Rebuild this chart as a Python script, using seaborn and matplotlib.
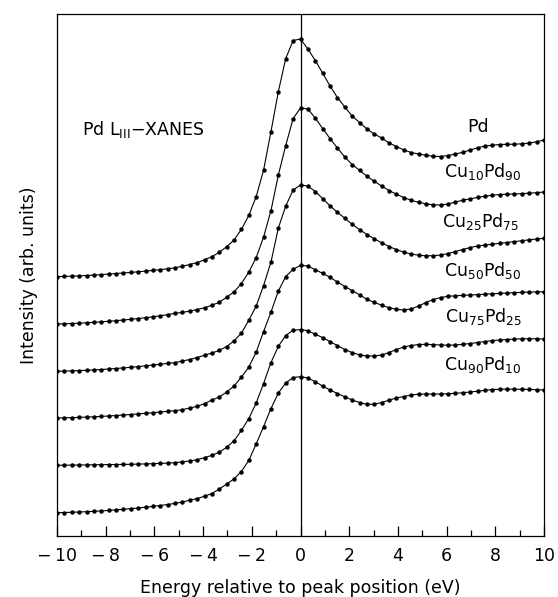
import numpy as np
import pandas as pd
import matplotlib
matplotlib.use("Agg")
import matplotlib.pyplot as plt
from matplotlib.ticker import MultipleLocator
import seaborn as sns

# Energy grid (eV relative to peak) - 67 measured points from -10 to 10
energy = np.linspace(-10, 10, 67)

samples = ["Pd", "Cu10Pd90", "Cu25Pd75", "Cu50Pd50", "Cu75Pd25", "Cu90Pd10"]
labels = [r"Pd", r"Cu$_{10}$Pd$_{90}$", r"Cu$_{25}$Pd$_{75}$",
          r"Cu$_{50}$Pd$_{50}$", r"Cu$_{75}$Pd$_{25}$", r"Cu$_{90}$Pd$_{10}$"]

# Intensities (arb. units, vertically stacked as displayed)
pd100 = [259.3, 259.6, 259.8, 260.1, 260.5, 260.9, 261.4, 261.9, 262.5, 263.0,
         263.6, 264.2, 264.9, 265.6, 266.4, 267.2, 268.2, 269.8, 271.5, 273.4,
         276.2, 279.4, 283.7, 289.4, 296.0, 306.7, 320.7, 339.5, 366.0, 404.5,
         444.5, 477.5, 495.5, 497.0, 487.0, 475.5, 463.0, 450.0, 438.5, 429.0,
         420.0, 413.5, 407.0, 402.0, 398.0, 393.0, 389.5, 386.0, 383.5, 382.0,
         380.7, 379.7, 379.5, 380.5, 382.0, 383.7, 386.0, 388.2, 390.0, 390.8,
         391.5, 391.7, 391.8, 392.2, 393.0, 394.2, 396.0]
cu10 = [212.0, 212.2, 212.5, 212.8, 213.2, 213.7, 214.2, 214.7, 215.3, 216.0,
        216.7, 217.5, 218.3, 219.2, 220.2, 221.4, 222.7, 223.6, 224.9, 226.5,
        228.2, 230.8, 233.8, 238.8, 244.2, 252.5, 264.0, 278.5, 299.0, 325.5,
        361.0, 390.5, 417.5, 428.0, 427.0, 418.0, 407.5, 397.5, 388.0, 379.0,
        371.5, 365.7, 359.8, 354.7, 350.0, 345.5, 341.7, 338.5, 335.7, 333.7,
        332.2, 331.2, 331.0, 332.0, 334.0, 335.8, 337.2, 338.6, 339.8, 340.8,
        341.5, 341.8, 342.0, 342.4, 342.8, 343.3, 344.0]
cu25 = [164.7, 164.9, 165.1, 165.4, 165.7, 166.1, 166.5, 167.0, 167.5, 168.1,
        168.7, 169.4, 170.2, 171.0, 171.8, 172.6, 173.4, 175.0, 176.5, 178.5,
        180.8, 183.0, 185.6, 189.5, 195.2, 203.0, 215.8, 230.0, 250.5, 274.0,
        308.0, 330.0, 346.0, 351.0, 350.0, 344.5, 337.5, 330.2, 323.7, 317.8,
        311.7, 306.4, 301.5, 297.2, 293.2, 289.5, 286.4, 283.8, 282.0, 280.8,
        280.2, 280.3, 281.0, 282.5, 284.5, 286.5, 288.5, 290.0, 291.0, 291.8,
        292.7, 293.5, 294.4, 295.3, 296.2, 297.0, 297.7]
cu50 = [118.0, 118.2, 118.4, 118.6, 118.9, 119.2, 119.6, 120.0, 120.5, 121.0,
        121.5, 122.1, 122.7, 123.3, 124.0, 124.7, 125.3, 126.4, 128.0, 129.7,
        132.4, 136.0, 139.0, 144.0, 150.0, 159.0, 169.0, 184.0, 204.5, 224.0,
        245.0, 259.5, 266.7, 270.7, 270.0, 266.2, 262.7, 258.7, 254.0, 249.5,
        245.4, 241.2, 236.7, 233.6, 230.8, 228.3, 226.7, 226.0, 227.0, 230.0,
        233.5, 236.5, 238.5, 239.7, 240.2, 240.6, 241.0, 241.4, 241.8, 242.2,
        242.6, 243.0, 243.3, 243.6, 243.9, 244.1, 244.3]
cu75 = [70.7, 70.8, 70.9, 71.0, 71.1, 71.2, 71.3, 71.4, 71.5, 71.6,
        71.7, 71.9, 72.1, 72.3, 72.6, 72.9, 73.3, 74.1, 75.1, 76.3,
        78.4, 80.7, 83.8, 88.8, 95.2, 105.7, 117.5, 133.2, 152.5, 173.5,
        189.7, 200.5, 205.7, 206.5, 205.2, 201.8, 198.4, 194.4, 190.4, 186.5,
        183.4, 181.2, 180.0, 180.0, 181.0, 183.5, 186.5, 189.0, 190.5, 191.5,
        191.7, 191.4, 191.0, 190.8, 191.0, 191.7, 192.5, 193.5, 194.5, 195.4,
        196.0, 196.5, 196.9, 197.2, 197.3, 197.2, 197.0]
cu90 = [23.3, 23.5, 23.7, 24.0, 24.3, 24.7, 25.1, 25.6, 26.1, 26.7,
        27.3, 28.0, 28.8, 29.6, 30.5, 31.5, 32.6, 34.0, 35.8, 37.5,
        39.8, 42.5, 47.0, 52.0, 57.2, 64.5, 75.7, 92.2, 109.5, 127.5,
        143.0, 153.0, 158.5, 159.3, 158.0, 154.3, 150.0, 146.0, 142.5, 139.2,
        136.0, 133.5, 131.7, 131.7, 133.5, 135.8, 138.0, 139.5, 141.0, 141.8,
        142.0, 142.0, 142.0, 142.2, 142.7, 143.3, 144.0, 144.8, 145.7, 146.4,
        146.8, 146.9, 146.8, 146.7, 146.6, 146.3, 146.0]

series = [pd100, cu10, cu25, cu50, cu75, cu90]

# Label anchor points (eV, intensity)
label_x = [7.3, 7.5, 7.4, 7.5, 7.5, 7.5]
label_y = [404.3, 359.0, 309.3, 260.0, 213.7, 166.0]

df = pd.concat([pd.DataFrame({"energy": energy, "intensity": s, "sample": n})
                for s, n in zip(series, samples)], ignore_index=True)

sns.set_style("white")
plt.rcParams["font.family"] = ["DejaVu Sans"]
plt.rcParams["mathtext.default"] = "regular"
plt.rcParams["text.color"] = "black"
plt.rcParams["axes.labelcolor"] = "black"
plt.rcParams["xtick.color"] = "black"
plt.rcParams["ytick.color"] = "black"

fig = plt.figure(figsize=(5.58, 5.97), dpi=100)
ax = fig.add_axes([57 / 558, 1 - 536 / 597, 487 / 558, 522 / 597])

sns.lineplot(data=df, x="energy", y="intensity", hue="sample",
             palette=["black"] * 6, marker="o", markersize=3.2,
             markeredgewidth=0, linewidth=0.8, legend=False, ax=ax,
             estimator=None, sort=False)

ax.axvline(0, color="black", linewidth=0.9)

ax.set_xlim(-10, 10)
ax.set_ylim(0, 522)
ax.set_yticks([])
ax.xaxis.set_major_locator(MultipleLocator(2))
ax.xaxis.set_minor_locator(MultipleLocator(1))
ax.tick_params(axis="x", which="major", direction="in", length=7, width=0.9,
               labelsize=12.5, pad=8, bottom=True, top=False, colors="black")
ax.tick_params(axis="x", which="minor", direction="in", length=4, width=0.9,
               bottom=True, top=False, colors="black")
ax.set_xticks(ax.get_xticks())
ax.set_xticklabels([f"\u2212\u2009{abs(int(v))}" if v < 0 else f"{int(v)}"
                    for v in ax.get_xticks()])
ax.set_xlim(-10, 10)
for sp in ax.spines.values():
    sp.set_color("black")
    sp.set_linewidth(0.9)

ax.set_xlabel("Energy relative to peak position (eV)", fontsize=12.5,
              labelpad=10, color="black")
ax.set_ylabel("Intensity (arb. units)", fontsize=12.5, labelpad=14,
              color="black")

for lx, ly, lab in zip(label_x, label_y, labels):
    ax.text(lx, ly, lab, fontsize=12.5, ha="center", va="baseline",
            color="black")

ax.text(-8.97, 401, r"Pd L$_{III}$" + "\u2212XANES", fontsize=12.5,
        ha="left", va="baseline", color="black")

fig.savefig("out.png", dpi=100)
